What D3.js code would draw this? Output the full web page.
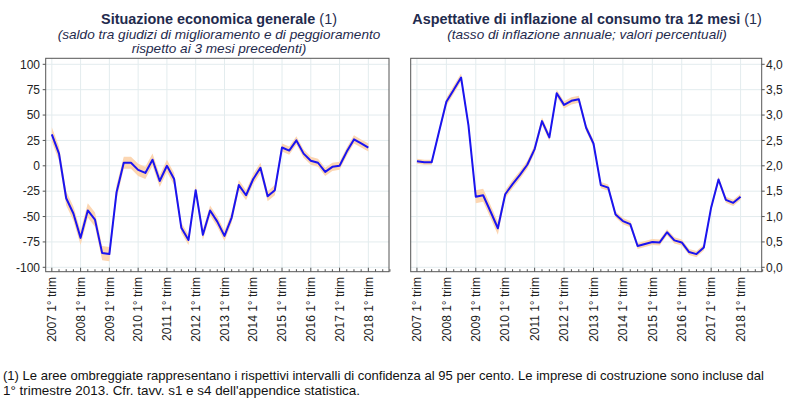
<!DOCTYPE html>
<html><head><meta charset="utf-8">
<script src="https://cdn.jsdelivr.net/npm/d3@7"></script>
<style>
body{margin:0;background:#fff;}
text{font-family:"Liberation Sans",Arial,sans-serif;}
</style></head><body>
<svg id="c" width="800" height="400"></svg>
<script>
const years = [2007,2008,2009,2010,2011,2012,2013,2014,2015,2016,2017,2018];
const yearLabels = years.map(y => y + " 1° trim");
// quarters 2007Q1..2018Q1 (45)
const climate = [31,12,-32,-47,-71,-44,-53,-86,-87,-26,3,3,-4,-7,6,-15,0,-13,-61,-73,-24,-68,-44,-55,-69,-51,-19,-29,-13,-2,-30,-24,18,15,25,12,5,3,-6,-1,0,14,26,22,18];
const climateHi = [38,19,-25,-40,-64,-37,-46,-79,-80,-19,9,9,2,-1,12,-9,6,-7,-56,-68,-19,-63,-39,-50,-64,-46,-14,-24,-8,3,-25,-19,22,19,29,16,9,7,-2,3,4,18,30,26,22];
const climateLo = [24,5,-39,-54,-78,-51,-60,-93,-94,-33,-3,-3,-10,-13,0,-21,-6,-19,-66,-78,-29,-73,-49,-60,-74,-56,-24,-34,-18,-7,-35,-29,14,11,21,8,1,-1,-10,-5,-4,10,22,18,14];
const infl = [2.09,2.07,2.07,2.67,3.26,3.50,3.74,2.80,1.39,1.42,1.10,0.77,1.44,1.64,1.82,2.02,2.33,2.88,2.56,3.43,3.20,3.28,3.31,2.75,2.44,1.62,1.57,1.04,0.91,0.85,0.42,0.46,0.50,0.49,0.69,0.53,0.49,0.30,0.26,0.39,1.18,1.73,1.33,1.27,1.39];
const inflHi = [2.14,2.12,2.12,2.72,3.34,3.58,3.82,2.88,1.52,1.55,1.23,0.90,1.52,1.72,1.90,2.10,2.41,2.95,2.63,3.50,3.27,3.35,3.38,2.82,2.51,1.68,1.63,1.10,0.97,0.91,0.48,0.52,0.56,0.55,0.75,0.59,0.55,0.36,0.32,0.45,1.24,1.79,1.39,1.33,1.45];
const inflLo = [2.04,2.02,2.02,2.62,3.18,3.42,3.66,2.72,1.26,1.29,0.97,0.64,1.36,1.56,1.74,1.94,2.25,2.81,2.49,3.36,3.13,3.21,3.24,2.68,2.37,1.56,1.51,0.98,0.85,0.79,0.36,0.40,0.44,0.43,0.63,0.47,0.43,0.24,0.20,0.33,1.12,1.67,1.27,1.21,1.33];
const leftTicks = [100,75,50,25,0,-25,-50,-75,-100];
const rightTicks = [0,0.5,1,1.5,2,2.5,3,3.5,4];

const svg = d3.select("#c");
const navy = "#1f2b4e";
const frameTop = 58.3, frameBot = 271.7;

function panel(opt){
  const x = d3.scaleLinear().domain([-0.85, 46.87]).range([opt.x0, opt.x1]);
  const y = d3.scaleLinear().domain(opt.ydom).range([267.3, 64.3]);
  const g = svg.append("g");
  g.selectAll(".hg").data(opt.ticks).join("line")
    .attr("x1", opt.x0).attr("x2", opt.x1).attr("y1", d=>y(d)).attr("y2", d=>y(d))
    .attr("stroke", "#e3ecee").attr("stroke-width", 1);
  g.selectAll(".vg").data(years).join("line")
    .attr("x1", (d,i)=>x(i*4)).attr("x2", (d,i)=>x(i*4)).attr("y1", frameTop).attr("y2", frameBot)
    .attr("stroke", "#e3ecee").attr("stroke-width", 1);
  const idx = d3.range(opt.vals.length);
  g.append("path").datum(idx)
    .attr("d", d3.area().x(i=>x(i)).y0(i=>y(opt.lo[i])).y1(i=>y(opt.hi[i])))
    .attr("fill", "#fcd6b2");
  g.append("path").datum(idx)
    .attr("d", d3.line().x(i=>x(i)).y(i=>y(opt.vals[i])))
    .attr("fill", "none").attr("stroke", "#1a14f0").attr("stroke-width", 2).attr("stroke-linejoin","round");
  g.append("rect").attr("x", opt.x0).attr("y", frameTop).attr("width", opt.x1-opt.x0).attr("height", frameBot-frameTop)
    .attr("fill", "none").attr("stroke", "#555").attr("stroke-width", 1);
  const q = d3.range(0, 48);
  g.selectAll(".qt").data(q).join("line")
    .attr("x1", d=>x(d)).attr("x2", d=>x(d))
    .attr("y1", frameBot).attr("y2", d=> d%4===0 ? frameBot-4 : frameBot-2.5)
    .attr("stroke", "#555").attr("stroke-width", 1);
  g.selectAll(".yt").data(opt.ticks).join("line")
    .attr("x1", opt.tickX).attr("x2", opt.tickX + opt.tickDir*3).attr("y1", d=>y(d)).attr("y2", d=>y(d))
    .attr("stroke", "#555");
  g.selectAll(".yl").data(opt.ticks).join("text")
    .attr("x", opt.labelX).attr("y", d=>y(d)).attr("dy", "0.35em")
    .attr("text-anchor", opt.anchor).attr("font-size", 12).attr("fill", "#222")
    .text(opt.fmt);
  g.selectAll(".xl").data(yearLabels).join("text")
    .attr("transform", (d,i)=>`translate(${x(i*4)},277) rotate(-90)`)
    .attr("dy", "0.35em").attr("text-anchor", "end").attr("font-size", 12).attr("fill", "#222")
    .text(d=>d);
  const t = svg.append("text").attr("x", opt.tx).attr("y", 24).attr("text-anchor", "middle")
    .attr("font-size", 14.4).attr("fill", navy);
  t.append("tspan").attr("font-weight", "bold").text(opt.title);
  t.append("tspan").text(" (1)");
  opt.sub.forEach((s, k) => {
    svg.append("text").attr("x", opt.tx).attr("y", 39 + k*14.2).attr("text-anchor", "middle")
      .attr("font-size", 13.6).attr("font-style", "italic").attr("fill", navy).text(s);
  });
}

panel({x0:45.7, x1:389, ydom:[-100,100], ticks:leftTicks, vals:climate, hi:climateHi, lo:climateLo,
  tickX:45.7, tickDir:-1, labelX:40, anchor:"end", fmt:d=>String(d),
  tx:219, title:"Situazione economica generale",
  sub:["(saldo tra giudizi di miglioramento e di peggioramento","rispetto ai 3 mesi precedenti)"]});
panel({x0:410.7, x1:761.7, ydom:[0,4], ticks:rightTicks, vals:infl, hi:inflHi, lo:inflLo,
  tickX:761.7, tickDir:1, labelX:766, anchor:"start", fmt:d=>d.toFixed(1).replace(".", ","),
  tx:587, title:"Aspettative di inflazione al consumo tra 12 mesi",
  sub:["(tasso di inflazione annuale; valori percentuali)"]});

const notes = ["(1) Le aree ombreggiate rappresentano i rispettivi intervalli di confidenza al 95 per cento. Le imprese di costruzione sono incluse dal",
  "1° trimestre 2013. Cfr. tavv. s1 e s4 dell'appendice statistica."];
const noteW = [761, 357];
notes.forEach((n,k)=>{
  svg.append("text").attr("x", 3).attr("y", 380 + k*15).attr("font-size", 13).attr("fill", "#111")
    .attr("textLength", noteW[k]).attr("lengthAdjust", "spacingAndGlyphs").text(n);
});
</script></body></html>
